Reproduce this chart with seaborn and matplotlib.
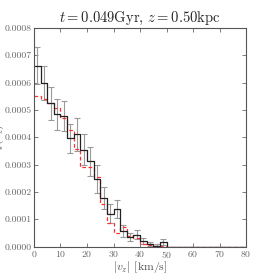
"""
f(|v_z|) in one height slice: simulation histogram vs model
"""
import numpy as np
import pandas as pd
import matplotlib
matplotlib.use('Agg')
import matplotlib.pyplot as plt
import seaborn as sns

bin_width = 2.5
v_left = np.arange(0, 80, bin_width)

# measured distribution (black steps) and its errors
f_sim = [0.000662, 0.000598, 0.000525, 0.000484, 0.000477, 0.000397, 0.000411, 0.000355,
         0.000312, 0.000247, 0.000177, 0.000121, 0.000136, 0.000056, 0.000036, 0.000043,
         0.000021, 0.000009, 0.000004, 0.000016, 0, 0, 0, 0, 0, 0, 0, 0, 0, 0, 0, 0]
f_err = [0.000067, 0.000063, 0.000060, 0.000057, 0.000055, 0.000053, 0.000060, 0.000058,
         0.000052, 0.000050, 0.000040, 0.000035, 0.000033, 0.000022, 0.000015, 0.000017,
         0.000012, 0.000007, 0.000004, 0.000010, 0, 0, 0, 0, 0, 0, 0, 0, 0, 0, 0, 0]
# model (red dashed)
f_model = [0.000550, 0.000541, 0.000525, 0.000508, 0.000470, 0.000427, 0.000357, 0.000291,
           0.000290, 0.000256, 0.000156, 0.000085, 0.000049, 0.000073, 0.000040, 0.000030,
           0.000010, 0.000006, 0.000004, 0.000002, 0, 0, 0, 0, 0, 0, 0, 0, 0, 0, 0, 0]

sns.set_style('ticks')
plt.rcParams['font.family'] = 'serif'
plt.rcParams['font.serif'] = ['cmr10', 'DejaVu Serif']
plt.rcParams['mathtext.fontset'] = 'cm'
plt.rcParams['axes.formatter.use_mathtext'] = True

edges = np.append(v_left, 80)
df = pd.DataFrame({'v': edges,
                   'sim': f_sim + [f_sim[-1]],
                   'model': f_model + [f_model[-1]]})

fig = plt.figure(figsize=(2.74, 2.74), dpi=100)
ax = fig.add_axes([0.124, 0.1, 0.774, 0.798])

ax.errorbar(v_left + bin_width / 2, f_sim, yerr=f_err, fmt='none',
            ecolor='#9a9a9a', elinewidth=0.8, capsize=2, capthick=0.8)
sns.lineplot(data=df, x='v', y='model', drawstyle='steps-post', color='#ff3030',
             dashes=False, lw=0.9, ax=ax)
ax.lines[-1].set_dashes((3, 2))
sns.lineplot(data=df, x='v', y='sim', drawstyle='steps-post', color='#222222',
             lw=0.9, ax=ax)

ax.set_xlim(0, 80)
ax.set_ylim(0, 0.0008)
ax.set_xticks(np.arange(0, 81, 10))
ax.set_yticks(np.arange(0, 0.00081, 0.0001))
ax.yaxis.set_major_formatter(matplotlib.ticker.FormatStrFormatter('%.4f'))
ax.tick_params(direction='in', top=True, right=True, labelsize=7,
               colors='#666666', labelcolor='#666666', length=3, width=0.6, pad=1.5)
for s in ax.spines.values():
    s.set_color('#555555')
    s.set_linewidth(0.8)

ax.set_title(r'$t=0.049{\rm Gyr}$, $z=0.50{\rm kpc}$', fontsize=10.5, pad=4)
ax.set_xlabel(r'$|v_z|$ [km/s]', fontsize=8.5, color='#555555')
ax.xaxis.set_label_coords(0.5, -0.058)
ax.set_ylabel(r'$f(v_z)$', fontsize=8.5, color='#555555')
ax.yaxis.set_label_coords(-0.13, 0.5)

fig.savefig('out.png', dpi=100)
